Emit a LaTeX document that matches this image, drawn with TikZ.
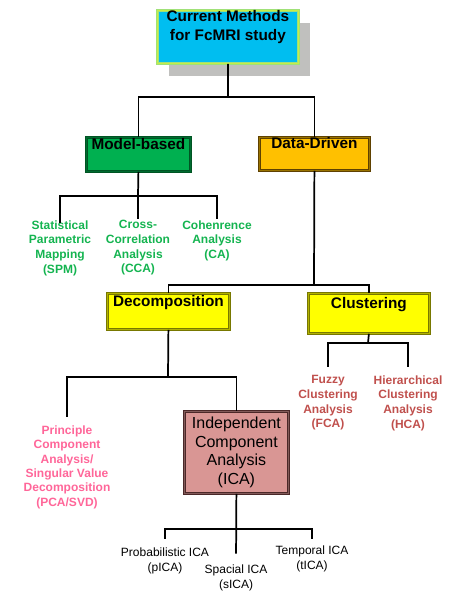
\documentclass[tikz,border=0pt]{standalone}
\usepackage{fontspec}
\setmainfont{Liberation Sans}
\usepackage{tikz}
\usetikzlibrary{shadows, calc}
\definecolor{titleblue}{RGB}{0,190,240}
\definecolor{titleedge}{RGB}{160,225,120}
\definecolor{shadowgray}{RGB}{192,192,190}
\definecolor{modelgreen}{RGB}{0,176,80}
\definecolor{modeledge}{RGB}{0,85,35}
\definecolor{dataorange}{RGB}{255,192,0}
\definecolor{dataedge}{RGB}{95,65,0}
\definecolor{decyellow}{RGB}{255,255,0}
\definecolor{decedge}{RGB}{120,120,0}
\definecolor{icarose}{RGB}{217,150,148}
\definecolor{icaedge}{RGB}{75,40,40}
\definecolor{leafgreen}{RGB}{20,180,80}
\definecolor{leafred}{RGB}{192,80,77}
\definecolor{leafpink}{RGB}{255,102,153}
\tikzstyle{box} = [rectangle, anchor=north west, inner sep=0pt,
text centered, line width=0.6pt, double distance=0.7pt,
font=\bfseries\fontsize{11.5}{14}\selectfont]
\tikzstyle{topbox} = [box, align=center, draw=titleedge, double=titleedge!60!yellow,
fill=titleblue, drop shadow={shadow xshift=9pt, shadow yshift=-9.75pt,
fill=shadowgray, opacity=1}]
\tikzstyle{leaf} = [anchor=north, align=center, inner sep=1pt,
font=\bfseries\fontsize{9}{11}\selectfont]
\tikzstyle{subleaf} = [leaf, font=\fontsize{9}{11.25}\selectfont]
\tikzstyle{line} = [line width=1.3pt]

\begin{document}
\begin{tikzpicture}[x=0.75pt, y=-0.75pt]
\useasboundingbox (0,0) rectangle (462,592);

\node (title) [topbox, minimum width=105.75pt, minimum height=39.75pt,
  text height=22.5pt, text depth=17.25pt] at (157,10) {Current Methods\\for FcMRI study};

\node (model) [box, draw=modeledge, double=modelgreen!60!black, fill=modelgreen,
  minimum width=78pt, text height=9pt, text depth=16.5pt] at (86,137) {Model-based};
\node (data) [box, draw=dataedge, double=dataorange!60!black, fill=dataorange,
  minimum width=82.5pt, text height=8.25pt, text depth=16.5pt] at (259,137) {Data-Driven};

\node (spm) [leaf, text=leafgreen] at (60,219) {Statistical\\Parametric\\Mapping\\(SPM)};
\node (cca) [leaf, text=leafgreen] at (138,219) {Cross-\\Correlation\\Analysis\\(CCA)};
\node (ca) [leaf, text=leafgreen] at (217,219) {Cohenrence\\Analysis\\(CA)};

\node (decomp) [box, draw=decedge, double=decyellow!70!black, fill=decyellow,
  minimum width=91.5pt, text height=9.75pt, text depth=17.25pt] at (107,293) {Decomposition};
\node (clust) [box, draw=decedge, double=decyellow!70!black, fill=decyellow,
  minimum width=90.75pt, text height=11.25pt, text depth=18.75pt] at (308,293) {Clustering};

\node (fca) [leaf, text=leafred] at (328,374) {Fuzzy\\Clustering\\Analysis\\(FCA)};
\node (hca) [leaf, text=leafred] at (408,374) {Hierarchical\\Clustering\\Analysis\\(HCA)};

\node (pca) [leaf, text=leafpink, font=\bfseries\fontsize{9}{10.8}\selectfont] at (67,424)
  {Principle\\Component\\Analysis/\\Singular Value\\Decomposition\\(PCA/SVD)};
\node (ica) [box, draw=icaedge, double=icarose!60!black, fill=icarose, align=center,
  minimum width=78pt, minimum height=61.5pt, font=\fontsize{12}{14}\selectfont] at (184,411)
  {Independent\\Component\\Analysis\\(ICA)};

\node (pica) [subleaf] at (165,546) {Probabilistic ICA\\(pICA)};
\node (sica) [subleaf] at (236,563) {Spacial ICA\\(sICA)};
\node (tica) [subleaf] at (312,544) {Temporal ICA\\(tICA)};

\coordinate (j1) at (228,97);
\coordinate (j2) at (138,196);
\coordinate (j3) at (314,285);
\coordinate (j4) at (168,377);
\coordinate (j5) at (368,343);
\coordinate (j6) at (236,529);

\draw [line] (title.south) -- (j1);
\draw [line] (j1) -| (model.north);
\draw [line] (j1) -| (data.north);

\draw [line] (model.south) -- (j2);
\draw [line] (j2) -| ([yshift=-3pt]spm.north);
\draw [line] (j2) -- (cca.north);
\draw [line] (j2) -| (ca.north);

\draw [line] (data.south) -- (j3);
\draw [line] (j3) -| (decomp.north);
\draw [line] (j3) -| (clust.north);

\draw [line] (clust.south) -- (j5);
\draw [line, shorten >=5pt] (j5) -| (fca.north);
\draw [line, shorten >=5pt] (j5) -| (hca.north);

\draw [line] (decomp.south) -- (j4);
\draw [line, shorten >=5pt] (j4) -| (pca.north);
\draw [line] (j4) -| (ica.north);

\draw [line, shorten >=7pt] (ica.south) -- (sica.north);
\draw [line, shorten >=5pt] (j6) -| (pica.north);
\draw [line, shorten >=4pt] (j6) -| (tica.north);
\end{tikzpicture}
\end{document}
